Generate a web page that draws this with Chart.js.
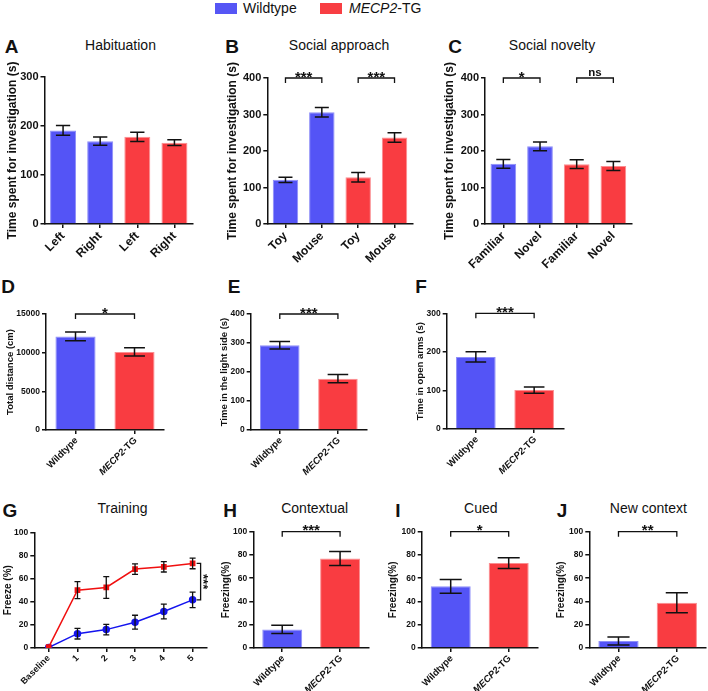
<!DOCTYPE html>
<html><head><meta charset="utf-8">
<script src="https://cdn.jsdelivr.net/npm/chart.js@4.4.1/dist/chart.umd.min.js"></script>
<style>
body{margin:0;background:#fff;width:708px;height:691px;position:relative;overflow:hidden;font-family:"Liberation Sans",Arial,sans-serif;color:#111;}
canvas{position:absolute;}
.t{position:absolute;transform:translate(-50%,-50%);white-space:nowrap;line-height:1;}
.lt{font-weight:bold;font-size:19px;}
.ti{font-size:14px;}
.sq{position:absolute;width:22px;height:11px;}
.lg{position:absolute;font-size:14px;line-height:16px;white-space:nowrap;}
</style></head><body>
<div class="sq" style="left:215px;top:3px;background:#5656f5;border:0;"></div>
<div class="lg" style="left:243px;top:0px;">Wildtype</div>
<div class="sq" style="left:320px;top:3px;background:#f83e43;"></div>
<div class="lg" style="left:349px;top:0px;"><i>MECP2</i>-TG</div>

<div class="t lt" style="left:11.5px;top:46px;">A</div>
<div class="t ti" style="left:120.5px;top:44.5px;">Habituation</div>
<div class="t lt" style="left:232px;top:46px;">B</div>
<div class="t ti" style="left:339px;top:44.5px;">Social approach</div>
<div class="t lt" style="left:455px;top:46px;">C</div>
<div class="t ti" style="left:552px;top:44.5px;">Social novelty</div>

<div class="t lt" style="left:8px;top:286px;">D</div>
<div class="t lt" style="left:234px;top:286px;">E</div>
<div class="t lt" style="left:421px;top:286px;">F</div>

<div class="t lt" style="left:10px;top:510px;">G</div>
<div class="t ti" style="left:122.5px;top:508px;">Training</div>
<div class="t lt" style="left:230px;top:510px;">H</div>
<div class="t ti" style="left:314.7px;top:508px;">Contextual</div>
<div class="t lt" style="left:398px;top:510px;">I</div>
<div class="t ti" style="left:480.8px;top:508px;">Cued</div>
<div class="t lt" style="left:562px;top:510px;">J</div>
<div class="t ti" style="left:648.3px;top:508px;">New context</div>

<script>
// ---------------- DATA ----------------
const habCategories = ['Left', 'Right', 'Left', 'Right'];
const habValues = [191, 169, 178, 166];
const habErrors = [10, 8.5, 9.5, 6];
const habTicks = [0, 100, 200, 300];

const socAppCategories = ['Toy', 'Mouse', 'Toy', 'Mouse'];
const socAppValues = [121, 306, 128, 237];
const socAppErrors = [7, 13, 13, 13];
const socAppSig = ['***', '***'];
const socTicks = [0, 100, 200, 300, 400];

const socNovCategories = ['Familiar', 'Novel', 'Familiar', 'Novel'];
const socNovValues = [165, 213, 164, 159];
const socNovErrors = [12, 12, 12, 12.5];
const socNovSig = ['*', 'ns'];

const genotypes = ['Wildtype', 'MECP2-TG'];

const distValues = [12100, 10100];
const distErrors = [560, 540];
const distTicks = [0, 5000, 10000, 15000];
const distSig = ['*'];

const lightValues = [292, 177];
const lightErrors = [13, 14];
const lightTicks = [0, 100, 200, 300, 400];
const lightSig = ['***'];

const openArmValues = [187, 101];
const openArmErrors = [13.5, 8];
const openArmTicks = [0, 100, 200, 300];
const openArmSig = ['***'];

const trainingLabels = ['Baseline', '1', '2', '3', '4', '5'];
const trainingWT = [0.5, 12.4, 15.9, 22.3, 31.5, 41.6];
const trainingWTErr = [0, 4.6, 4.6, 6, 6.4, 6.7];
const trainingTG = [0.8, 50, 52.3, 68.2, 70.2, 73.1];
const trainingTGErr = [0, 7.3, 9.4, 4.5, 4.5, 4.6];
const trainingSig = ['***'];

const freezeTicks = [0, 20, 40, 60, 80, 100];
const contextualValues = [16, 77];
const contextualErrors = [3.6, 6];
const contextualSig = ['***'];
const cuedValues = [53, 73];
const cuedErrors = [6, 4.6];
const cuedSig = ['*'];
const newContextValues = [6, 39];
const newContextErrors = [3.5, 8.6];
const newContextSig = ['**'];

// ---------------- STYLE ----------------
const BLUE = '#5454f6', RED = '#f93c41';
const BLUE_B = '#8e8ef8', RED_B = '#fb8d90';
const LINE_RED = '#f01010', LINE_BLUE = '#1414ee';
const INK = '#111';
const FF = '"Liberation Sans", Arial, sans-serif';

// ---------------- PLUGINS ----------------
const errBars = {
  id: 'errbars',
  afterDatasetsDraw(chart, args, o) {
    const ctx = chart.ctx, ys = chart.scales.y;
    ctx.save();
    ctx.strokeStyle = INK; ctx.lineWidth = o.lw || 1.5; ctx.lineCap = 'butt';
    chart.data.datasets.forEach((ds, di) => {
      if (!ds.errors) return;
      const meta = chart.getDatasetMeta(di);
      meta.data.forEach((el, i) => {
        const v = ds.data[i], e = ds.errors[i];
        if (!e) return;
        const x = el.x;
        const y1 = ys.getPixelForValue(v + e), y2 = ys.getPixelForValue(v - e);
        const half = (el.width ? el.width * o.cap : o.capPx) / 2;
        ctx.beginPath();
        ctx.moveTo(x, y1); ctx.lineTo(x, y2);
        ctx.moveTo(x - half, y1); ctx.lineTo(x + half, y1);
        ctx.moveTo(x - half, y2); ctx.lineTo(x + half, y2);
        ctx.stroke();
      });
    });
    ctx.restore();
  }
};

function starBaseline(text, cy, size) {
  return /\*/.test(text) ? cy + 0.575 * size : cy + 0.27 * size;
}

const brackets = {
  id: 'brackets',
  afterDraw(chart, args, o) {
    if (!o.items) return;
    const ctx = chart.ctx, xs = chart.scales.x, ys = chart.scales.y;
    ctx.save();
    ctx.strokeStyle = INK; ctx.fillStyle = INK; ctx.lineWidth = 1.3;
    o.items.forEach(it => {
      if (it.vertical) {
        const x = xs.getPixelForValue(it.i) + it.dx;
        const ya = ys.getPixelForValue(it.va), yb = ys.getPixelForValue(it.vb);
        ctx.beginPath();
        ctx.moveTo(x - it.leg, ya); ctx.lineTo(x, ya); ctx.lineTo(x, yb); ctx.lineTo(x - it.leg, yb);
        ctx.stroke();
        ctx.save();
        ctx.translate(x + it.tx, (ya + yb) / 2);
        ctx.rotate(Math.PI / 2);
        ctx.font = 'bold ' + it.size + 'px ' + FF;
        ctx.textAlign = 'center'; ctx.textBaseline = 'alphabetic';
        ctx.fillText(it.text, 0, 0.575 * it.size);
        ctx.restore();
        return;
      }
      const xa = xs.getPixelForValue(it.a), xb = xs.getPixelForValue(it.b);
      const y = ys.getPixelForValue(o.level);
      ctx.beginPath();
      ctx.moveTo(xa, y + o.leg); ctx.lineTo(xa, y); ctx.lineTo(xb, y); ctx.lineTo(xb, y + o.leg);
      ctx.stroke();
      const size = /\*/.test(it.text) ? o.starSize : o.nsSize;
      ctx.font = 'bold ' + size + 'px ' + FF;
      ctx.textAlign = 'center'; ctx.textBaseline = 'alphabetic';
      ctx.fillText(it.text, (xa + xb) / 2, starBaseline(it.text, y - o.gap, size));
    });
    ctx.restore();
  }
};

const xLabels = {
  id: 'xlabels',
  afterDraw(chart, args, o) {
    if (!o.show) return;
    const ctx = chart.ctx, xs = chart.scales.x, yb = chart.chartArea.bottom;
    ctx.save();
    ctx.fillStyle = INK;
    xs.getLabels().forEach((lab, i) => {
      const x = xs.getPixelForValue(i);
      const parts = lab.indexOf(o.italic) === 0 ? [[o.italic, true], [lab.slice(o.italic.length), false]] : [[lab, false]];
      ctx.save();
      ctx.translate(x + o.dx, yb + o.dy);
      ctx.rotate(-Math.PI / 4);
      ctx.textBaseline = 'middle'; ctx.textAlign = 'left';
      let total = 0;
      parts.forEach(p => { ctx.font = (p[1] ? 'italic ' : '') + 'bold ' + o.size + 'px ' + FF; total += ctx.measureText(p[0]).width; });
      let cx = -total;
      parts.forEach(p => { ctx.font = (p[1] ? 'italic ' : '') + 'bold ' + o.size + 'px ' + FF; ctx.fillText(p[0], cx, 0); cx += ctx.measureText(p[0]).width; });
      ctx.restore();
    });
    ctx.restore();
  }
};

Chart.register(errBars, brackets, xLabels);

// ---------------- LAYOUT ----------------
const GEO = {
  A: {L: 44.5, T: 77, R: 193, B: 224, labelX: 13, labelSize: 12, padTop: 20, hx: 55, padRight: 4},
  B: {L: 267.3, T: 78, R: 412.7, B: 224, labelX: 233, labelSize: 12, padTop: 20, hx: 55, padRight: 4},
  C: {L: 485, T: 78, R: 631.7, B: 223.5, labelX: 450, labelSize: 12, padTop: 20, hx: 55, padRight: 4},
  D: {L: 46, T: 314, R: 164, B: 429.3, labelX: 10.5, labelSize: 9.5, padTop: 16, hx: 52, padRight: 4},
  E: {L: 250.7, T: 314, R: 367, B: 429.3, labelX: 224, labelSize: 9.5, padTop: 16, hx: 52, padRight: 4},
  F: {L: 446.7, T: 313.3, R: 563.3, B: 428.3, labelX: 420, labelSize: 9.5, padTop: 16, hx: 52, padRight: 4},
  G: {L: 34.3, T: 532.3, R: 207, B: 647.7, labelX: 8.3, labelSize: 10, padTop: 14, hx: 43, padRight: 9},
  H: {L: 253.3, T: 531.7, R: 369, B: 647.7, labelX: 226, labelSize: 10, padTop: 14, hx: 43, padRight: 3},
  I: {L: 421.7, T: 531.7, R: 537.7, B: 647.7, labelX: 393.3, labelSize: 10, padTop: 14, hx: 43, padRight: 3},
  J: {L: 589.3, T: 531.7, R: 706, B: 647.7, labelX: 561.7, labelSize: 10, padTop: 14, hx: 43, padRight: 2}
};

function makeChart(key, spec) {
  const g = GEO[key];
  const lh = g.labelSize * 1.2;
  const left = Math.floor(g.labelX - lh / 2 - 1);
  const top = Math.floor(g.T - g.padTop);
  const padTop = g.T - top;
  const wy = g.L - left;
  const w = Math.ceil(g.R - left + g.padRight);
  const padRight = w - (g.R - left);
  const h = Math.ceil(g.B - top + g.hx);
  const titlePad = g.labelX - left - lh / 2;
  const cv = document.createElement('canvas');
  cv.width = w; cv.height = h;
  cv.style.left = left + 'px'; cv.style.top = top + 'px';
  cv.style.width = w + 'px'; cv.style.height = h + 'px';
  document.body.appendChild(cv);
  const yt = spec.yTicks;
  new Chart(cv, {
    type: spec.type,
    data: {labels: spec.labels, datasets: spec.datasets},
    options: {
      responsive: false, animation: false, devicePixelRatio: 1,
      layout: {padding: {top: padTop, right: padRight, left: 0, bottom: 0}},
      plugins: {
        legend: {display: false}, tooltip: {enabled: false},
        errbars: spec.err,
        brackets: spec.brackets || {},
        xlabels: spec.xl || {show: false}
      },
      scales: {
        x: {
          type: 'category', offset: true,
          grid: {display: true, drawOnChartArea: false, drawTicks: true, tickLength: 4, offset: false, color: INK, lineWidth: 1.5},
          border: {display: true, color: INK, width: 1.5},
          ticks: {display: !spec.xl, color: INK, font: {family: FF, size: spec.xSize, weight: 'bold'}, minRotation: 45, maxRotation: 45, autoSkip: false, padding: 1},
          afterFit(s) { s.height = g.hx; }
        },
        y: {
          min: yt[0], max: yt[yt.length - 1],
          ticks: {stepSize: yt[1] - yt[0], color: INK, padding: 2, font: {family: FF, size: spec.tickSize, weight: 'bold'}, callback: v => String(v)},
          grid: {display: true, drawOnChartArea: false, drawTicks: true, tickLength: 4, color: INK, lineWidth: 1.5},
          border: {display: true, color: INK, width: 1.5},
          title: {display: true, text: spec.yTitle, color: INK, font: {family: FF, size: g.labelSize, weight: 'bold'}, padding: {top: titlePad, bottom: 0}},
          afterFit(s) { s.width = wy; }
        }
      }
    }
  });
}

function barDataset(values, errors, colors, borders, pct) {
  return [{data: values, errors: errors, backgroundColor: colors, borderColor: borders, borderWidth: 1, borderSkipped: 'bottom', categoryPercentage: 1, barPercentage: pct}];
}
const C4 = [BLUE, BLUE, RED, RED], B4 = [BLUE_B, BLUE_B, RED_B, RED_B];
const C2 = [BLUE, RED], B2 = [BLUE_B, RED_B];
const row1Br = (sig, lvl) => ({level: lvl, leg: 5, gap: 5, starSize: 15, nsSize: 11.5, items: [{a: 0, b: 1, text: sig[0]}, {a: 2, b: 3, text: sig[1]}]});
const oneBr = (sig, lvl, s) => ({level: lvl, leg: 5, gap: 5, starSize: s, nsSize: 10, items: [{a: 0, b: 1, text: sig[0]}]});
const gxl = (size) => ({show: true, italic: 'MECP2', size: size, dx: 1, dy: 9});

makeChart('A', {type: 'bar', labels: habCategories, datasets: barDataset(habValues, habErrors, C4, B4, 0.7), yTicks: habTicks,
  yTitle: 'Time spent for investigation (s)', tickSize: 11, xSize: 12, err: {cap: 0.55, lw: 1.5}});
makeChart('B', {type: 'bar', labels: socAppCategories, datasets: barDataset(socAppValues, socAppErrors, C4, B4, 0.7), yTicks: socTicks,
  yTitle: 'Time spent for investigation (s)', tickSize: 11, xSize: 12, err: {cap: 0.55, lw: 1.5}, brackets: row1Br(socAppSig, 400)});
makeChart('C', {type: 'bar', labels: socNovCategories, datasets: barDataset(socNovValues, socNovErrors, C4, B4, 0.7), yTicks: socTicks,
  yTitle: 'Time spent for investigation (s)', tickSize: 11, xSize: 12, err: {cap: 0.55, lw: 1.5}, brackets: row1Br(socNovSig, 400)});

makeChart('D', {type: 'bar', labels: genotypes, datasets: barDataset(distValues, distErrors, C2, B2, 0.68), yTicks: distTicks,
  yTitle: 'Total distance (cm)', tickSize: 8.5, xSize: 9.5, err: {cap: 0.52, lw: 1.5}, brackets: oneBr(distSig, 15000, 15), xl: gxl(9.5)});
makeChart('E', {type: 'bar', labels: genotypes, datasets: barDataset(lightValues, lightErrors, C2, B2, 0.68), yTicks: lightTicks,
  yTitle: 'Time in the light side (s)', tickSize: 8.5, xSize: 9.5, err: {cap: 0.52, lw: 1.5}, brackets: oneBr(lightSig, 400, 15), xl: gxl(9.5)});
makeChart('F', {type: 'bar', labels: genotypes, datasets: barDataset(openArmValues, openArmErrors, C2, B2, 0.68), yTicks: openArmTicks,
  yTitle: 'Time in open arms (s)', tickSize: 8.5, xSize: 9.5, err: {cap: 0.52, lw: 1.5}, brackets: oneBr(openArmSig, 300, 15), xl: gxl(9.5)});

makeChart('G', {type: 'line', labels: trainingLabels,
  datasets: [
    {data: trainingTG, errors: trainingTGErr, borderColor: LINE_RED, backgroundColor: LINE_RED, borderWidth: 1.5, pointStyle: 'rect', pointRadius: 3, tension: 0},
    {data: trainingWT, errors: trainingWTErr, borderColor: LINE_BLUE, backgroundColor: LINE_BLUE, borderWidth: 1.5, pointStyle: 'circle', pointRadius: 3, tension: 0}
  ],
  yTicks: freezeTicks, yTitle: 'Freeze (%)', tickSize: 8.5, xSize: 9, err: {capPx: 6, lw: 1.3},
  brackets: {items: [{vertical: true, i: 5, dx: 8, leg: 4, tx: 6, size: 13, va: trainingTG[5], vb: trainingWT[5], text: trainingSig[0]}]}});

makeChart('H', {type: 'bar', labels: genotypes, datasets: barDataset(contextualValues, contextualErrors, C2, B2, 0.69), yTicks: freezeTicks,
  yTitle: 'Freezing(%)', tickSize: 8.5, xSize: 9.5, err: {cap: 0.55, lw: 1.5}, brackets: oneBr(contextualSig, 100, 15), xl: gxl(9.5)});
makeChart('I', {type: 'bar', labels: genotypes, datasets: barDataset(cuedValues, cuedErrors, C2, B2, 0.69), yTicks: freezeTicks,
  yTitle: 'Freezing(%)', tickSize: 8.5, xSize: 9.5, err: {cap: 0.55, lw: 1.5}, brackets: oneBr(cuedSig, 100, 15), xl: gxl(9.5)});
makeChart('J', {type: 'bar', labels: genotypes, datasets: barDataset(newContextValues, newContextErrors, C2, B2, 0.69), yTicks: freezeTicks,
  yTitle: 'Freezing(%)', tickSize: 8.5, xSize: 9.5, err: {cap: 0.55, lw: 1.5}, brackets: oneBr(newContextSig, 100, 15), xl: gxl(9.5)});
</script>
</body></html>
